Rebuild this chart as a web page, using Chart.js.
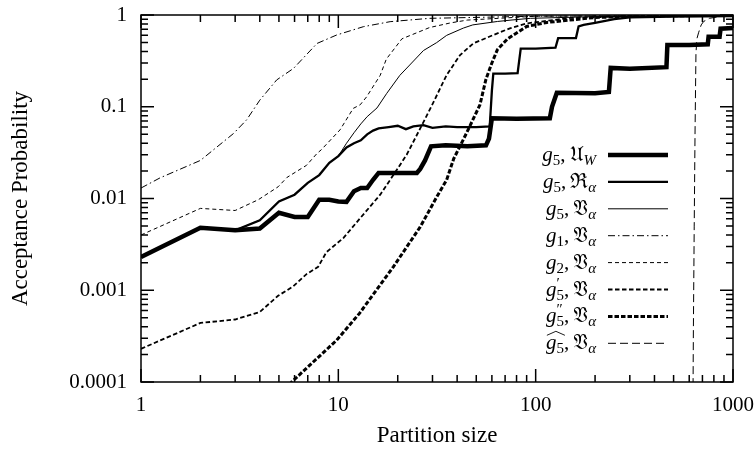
<!DOCTYPE html>
<html lang="en">
<head>
<meta charset="UTF-8">
<title>Acceptance Probability</title>
<script src="https://cdn.jsdelivr.net/npm/chart.js@4.4.1/dist/chart.umd.min.js"></script>
<style>
  body { margin: 0; background: #fff; }
</style>
</head>
<body>
<canvas id="chart" width="755" height="451"></canvas>
<script>
// tick values
const xTicks = [1, 10, 100, 1000];
const yTicks = [0.0001, 0.001, 0.01, 0.1, 1];

// g5, U_W
const uwX = [1, 2, 3, 4, 5, 6, 7, 8, 9, 10, 11, 12, 13, 14, 15, 16, 20, 25, 26, 27.5, 29.5, 35, 45, 56, 58, 60, 80, 118, 121, 128, 200, 235, 240, 300, 460, 465, 600, 745, 752, 855, 865, 1000];
const uwY = [0.0023, 0.0048, 0.0045, 0.0047, 0.0070, 0.0063, 0.0063, 0.0097, 0.0097, 0.0093, 0.0092, 0.012, 0.013, 0.013, 0.016, 0.019, 0.019, 0.019, 0.021, 0.026, 0.037, 0.038, 0.037, 0.038, 0.045, 0.075, 0.074, 0.075, 0.10, 0.142, 0.14, 0.145, 0.265, 0.26, 0.27, 0.47, 0.47, 0.48, 0.58, 0.58, 0.71, 0.72];

// g5, R_alpha
const raX = [1, 2, 3, 4, 5, 6, 7, 8, 9, 10, 11, 12, 13, 14, 15, 16, 18, 20, 22, 24, 27, 30, 35, 40, 50, 58.5, 60, 61, 70, 81, 84, 100, 126, 130, 160, 165, 175, 200, 250, 300, 500, 1000];
const raY = [0.0023, 0.0048, 0.0045, 0.0058, 0.0093, 0.011, 0.0148, 0.018, 0.0245, 0.029, 0.036, 0.040, 0.043, 0.050, 0.055, 0.058, 0.060, 0.062, 0.057, 0.061, 0.063, 0.059, 0.061, 0.060, 0.060, 0.061, 0.15, 0.23, 0.23, 0.232, 0.43, 0.43, 0.44, 0.56, 0.56, 0.75, 0.78, 0.82, 0.90, 0.94, 0.96, 0.97];

// g5, V_alpha
const vaX = [1, 2, 3, 4, 5, 6, 7, 8, 9, 10, 11, 12, 13, 14, 15.7, 17.6, 20.5, 23, 27, 31.5, 35.4, 43, 48, 64, 75, 94, 200, 1000];
const vaY = [0.0023, 0.0048, 0.0045, 0.0058, 0.0093, 0.011, 0.0148, 0.018, 0.0245, 0.029, 0.040, 0.052, 0.065, 0.078, 0.097, 0.14, 0.22, 0.285, 0.41, 0.50, 0.60, 0.72, 0.78, 0.85, 0.88, 0.92, 0.96, 0.98];

// g1, V_alpha
const g1X = [1, 1.25, 2, 2.94, 3.43, 4, 4.87, 5.93, 7.8, 9.8, 13.4, 18.3, 29, 100, 1000];
const g1Y = [0.013, 0.0168, 0.026, 0.051, 0.072, 0.118, 0.196, 0.262, 0.49, 0.605, 0.746, 0.846, 0.92, 0.97, 0.99];

// g2, V_alpha
const g2X = [1, 2, 3, 3.93, 4.95, 5.5, 6.9, 7.8, 8.2, 10.2, 11.9, 12.9, 13.9, 16.3, 17.5, 21, 29, 37, 45, 100, 1000];
const g2Y = [0.004, 0.0078, 0.0074, 0.0097, 0.0134, 0.017, 0.023, 0.031, 0.034, 0.056, 0.096, 0.105, 0.128, 0.22, 0.33, 0.55, 0.73, 0.82, 0.88, 0.97, 0.99];

// g5', V_alpha
const g5pX = [1, 2, 3, 4, 4.95, 5.9, 6.9, 7.9, 8.7, 10.6, 12.9, 16.3, 19, 22.2, 26, 30.4, 35.4, 41.4, 48.3, 61, 74, 90, 150, 300, 1000];
const g5pY = [0.00023, 0.00044, 0.00048, 0.00058, 0.00087, 0.0011, 0.0015, 0.0018, 0.0026, 0.0037, 0.0061, 0.011, 0.018, 0.030, 0.058, 0.113, 0.222, 0.366, 0.49, 0.605, 0.716, 0.81, 0.93, 0.97, 0.99];

// g5'', V_alpha
const g5ppX = [5.5, 5.8, 9.8, 12.8, 19, 26, 31.6, 35.4, 38.4, 44.9, 52.2, 56, 60, 64, 72, 90, 114, 200, 400, 1000];
const g5ppY = [0.00008, 0.0001, 0.000285, 0.00056, 0.0018, 0.0049, 0.0105, 0.016, 0.027, 0.053, 0.105, 0.2, 0.3, 0.42, 0.55, 0.75, 0.83, 0.94, 0.98, 0.99];

// g5 hat, V_alpha
const g5hX = [625, 630, 636, 642, 649, 656, 669, 690, 710, 760, 850, 1000];
const g5hY = [0.00002, 0.0004, 0.005, 0.05, 0.38, 0.55, 0.64, 0.78, 0.85, 0.92, 0.96, 0.98];

const pts = (xs, ys) => xs.map((x, i) => ({ x: x, y: ys[i] }));

const series = [
  { data: pts(uwX, uwY), width: 4.5, dash: [] },
  { data: pts(raX, raY), width: 2.3, dash: [] },
  { data: pts(vaX, vaY), width: 1, dash: [] },
  { data: pts(g1X, g1Y), width: 1, dash: [7, 3, 1.5, 3] },
  { data: pts(g2X, g2Y), width: 1, dash: [4, 3] },
  { data: pts(g5pX, g5pY), width: 1.8, dash: [4.5, 2.5] },
  { data: pts(g5ppX, g5ppY), width: 3, dash: [4.5, 2] },
  { data: pts(g5hX, g5hY), width: 1, dash: [8, 4] }
];

// legend labels, drawn as little math pieces
const labels = [
  { g: 'g', sup: '', sub: '5', frak: '\u{1D518}', fsub: 'W', hat: false },
  { g: 'g', sup: '', sub: '5', frak: '\u211C', fsub: '\u03B1', hat: false },
  { g: 'g', sup: '', sub: '5', frak: '\u{1D519}', fsub: '\u03B1', hat: false },
  { g: 'g', sup: '', sub: '1', frak: '\u{1D519}', fsub: '\u03B1', hat: false },
  { g: 'g', sup: '', sub: '2', frak: '\u{1D519}', fsub: '\u03B1', hat: false },
  { g: 'g', sup: '\u2032', sub: '5', frak: '\u{1D519}', fsub: '\u03B1', hat: false },
  { g: 'g', sup: '\u2033', sub: '5', frak: '\u{1D519}', fsub: '\u03B1', hat: false },
  { g: 'g', sup: '', sub: '5', frak: '\u{1D519}', fsub: '\u03B1', hat: true }
];

const SERIF = "'Liberation Serif', 'DejaVu Serif', serif";

const frame = {
  id: 'frame',
  afterDatasetsDraw(chart) {
    const { ctx, chartArea: a, scales: { x, y } } = chart;
    ctx.save();
    ctx.strokeStyle = '#000';
    ctx.lineWidth = 1.5;
    ctx.setLineDash([]);
    ctx.beginPath();
    for (let d = 1; d < 1000; d *= 10) {
      for (let k = 1; k <= 10; k++) {
        const px = x.getPixelForValue(d * k);
        const len = (k === 1 || k === 10) ? 13 : 7;
        ctx.moveTo(px, a.bottom); ctx.lineTo(px, a.bottom - len);
        ctx.moveTo(px, a.top); ctx.lineTo(px, a.top + len);
      }
    }
    for (let d = 0.0001; d < 1; d *= 10) {
      for (let k = 1; k <= 10; k++) {
        const py = y.getPixelForValue(d * k);
        const len = (k === 1 || k === 10) ? 13 : 7;
        ctx.moveTo(a.left, py); ctx.lineTo(a.left + len, py);
        ctx.moveTo(a.right, py); ctx.lineTo(a.right - len, py);
      }
    }
    ctx.stroke();
    ctx.strokeRect(a.left, a.top, a.width, a.height);
    ctx.restore();
  },
  afterDraw(chart) {
    const ctx = chart.ctx;
    const big = 21, small = 15;
    const textRight = 597, lineL = 608, lineR = 668, top = 155, step = 26.9;
    labels.forEach((lb, i) => {
      const yb = top + i * step + 6;
      // measure
      ctx.font = 'italic ' + big + 'px ' + SERIF;
      const wg = ctx.measureText(lb.g).width;
      ctx.font = small + 'px ' + SERIF;
      const ws = Math.max(ctx.measureText(lb.sub).width, ctx.measureText(lb.sup).width);
      ctx.font = big + 'px ' + SERIF;
      const wc = ctx.measureText(',').width + 4;
      const wf = ctx.measureText(lb.frak).width;
      ctx.font = 'italic ' + small + 'px ' + SERIF;
      const wfs = ctx.measureText(lb.fsub).width;
      let xx = textRight - (wg + ws + wc + wf + wfs + 1);
      ctx.fillStyle = '#000';
      ctx.textBaseline = 'alphabetic';
      ctx.textAlign = 'left';
      const x0 = xx;
      ctx.font = 'italic ' + big + 'px ' + SERIF;
      ctx.fillText(lb.g, xx, yb);
      xx += wg;
      ctx.font = small + 'px ' + SERIF;
      ctx.fillText(lb.sub, xx, yb + 4);
      if (lb.sup) ctx.fillText(lb.sup, xx, yb - 8);
      xx += ws;
      if (lb.hat) {
        ctx.save();
        ctx.lineWidth = 0.9;
        ctx.strokeStyle = '#000';
        ctx.beginPath();
        ctx.moveTo(x0 + 1, yb - 14);
        ctx.lineTo((x0 + xx) / 2 + 1, yb - 18);
        ctx.lineTo(xx + 1, yb - 14);
        ctx.stroke();
        ctx.restore();
      }
      ctx.font = big + 'px ' + SERIF;
      ctx.fillText(',', xx, yb);
      xx += wc;
      ctx.fillText(lb.frak, xx, yb);
      xx += wf;
      ctx.font = 'italic ' + small + 'px ' + SERIF;
      ctx.fillText(lb.fsub, xx, yb + 4);
      // sample line
      const s = series[i];
      ctx.save();
      ctx.strokeStyle = '#000';
      ctx.lineWidth = s.width;
      ctx.setLineDash(s.dash);
      ctx.beginPath();
      ctx.moveTo(lineL, top + i * step);
      ctx.lineTo(lineR, top + i * step);
      ctx.stroke();
      ctx.restore();
    });
  }
};

const tickFont = { family: SERIF, size: 21 };
const titleFont = { family: SERIF, size: 23 };

new Chart(document.getElementById('chart'), {
  type: 'line',
  data: {
    datasets: series.map(s => ({
      data: s.data,
      borderColor: '#000',
      borderWidth: s.width,
      borderDash: s.dash,
      pointRadius: 0,
      fill: false,
      tension: 0
    }))
  },
  options: {
    responsive: false,
    animation: false,
    events: [],
    layout: { padding: { top: 15, right: 22, left: 0, bottom: 0 } },
    plugins: { legend: { display: false }, tooltip: { enabled: false } },
    scales: {
      x: {
        type: 'logarithmic',
        min: 1,
        max: 1000,
        afterBuildTicks: s => { s.ticks = xTicks.map(v => ({ value: v })); },
        afterFit: s => { s.height = 69; s.paddingLeft = 0; s.paddingRight = 0; },
        grid: { display: false, drawTicks: false },
        border: { display: false },
        ticks: { autoSkip: false, maxRotation: 0, padding: 11, color: '#000', font: tickFont, callback: v => String(v) },
        title: { display: true, text: 'Partition size', color: '#000', font: titleFont, padding: { top: 0, bottom: 1 } }
      },
      y: {
        type: 'logarithmic',
        min: 0.0001,
        max: 1,
        afterBuildTicks: s => { s.ticks = yTicks.map(v => ({ value: v })); },
        afterFit: s => { s.width = 141; s.paddingTop = 0; s.paddingBottom = 0; },
        grid: { display: false, drawTicks: false },
        border: { display: false },
        ticks: { autoSkip: false, padding: 14, color: '#000', font: tickFont, callback: v => String(v) },
        title: { display: true, text: 'Acceptance Probability', color: '#000', font: titleFont, padding: { top: 7, bottom: 0 } }
      }
    }
  },
  plugins: [frame]
});
</script>
</body>
</html>
